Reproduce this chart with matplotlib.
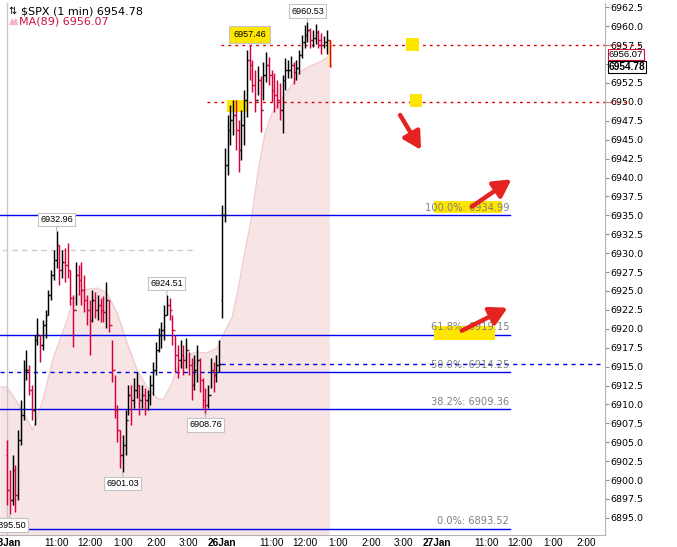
import matplotlib
matplotlib.use("Agg")
import matplotlib.pyplot as plt
import numpy as np
from matplotlib.collections import LineCollection
from matplotlib.patches import Rectangle, FancyArrowPatch, Polygon

plt.rcParams["font.family"] = ["DejaVu Sans"]

# x = minutes since 23 Jan 9:30 counted over regular sessions only; 5-minute bars
bar_idx = np.arange(0, 590, 5)

open_23jan = 6903.32
open_26jan = 6923.81

highs = [
    6905.30, 6901.34, 6903.32, 6902.00, 6906.62, 6910.59, 6915.88, 6917.20, 6915.22, 6912.57,
    6919.18, 6921.43, 6919.18, 6921.17, 6922.49, 6925.13, 6927.77, 6930.42, 6932.96, 6931.08,
    6930.42, 6930.68, 6931.34, 6927.77, 6924.47, 6928.83, 6928.44, 6928.83, 6927.11, 6924.47,
    6923.81, 6925.13, 6924.87, 6924.47, 6924.07, 6924.34, 6926.19, 6923.81, 6918.52, 6913.89,
    6909.93, 6906.62, 6905.96, 6909.27, 6912.57, 6912.57, 6913.50, 6914.29, 6912.57, 6912.57,
    6912.18, 6911.91, 6913.89, 6915.61, 6918.26, 6920.11, 6920.90, 6923.15, 6924.51, 6924.07,
    6921.83, 6919.18, 6917.86, 6918.52, 6917.86, 6918.79, 6916.94, 6916.14, 6916.54, 6917.86,
    6916.14, 6913.50, 6912.18, 6912.57, 6916.14, 6915.61, 6916.54, 6918.52,
    6936.37, 6943.90, 6948.26, 6949.59, 6950.25, 6950.25, 6947.60, 6948.92, 6951.57, 6956.86,
    6957.46, 6955.53, 6954.21, 6954.74, 6953.42, 6955.27, 6956.59, 6955.93, 6954.21, 6953.82,
    6952.89, 6952.49, 6953.55, 6955.80, 6955.53, 6956.06, 6955.27, 6955.53, 6956.86, 6958.84,
    6960.16, 6960.53, 6959.76, 6959.50, 6960.29, 6959.50, 6959.10, 6958.71, 6959.50, 6958.18,
]
lows = [
    6896.71, 6895.50, 6896.71, 6895.79, 6897.37, 6904.64, 6907.95, 6913.23, 6911.25, 6907.95,
    6907.29, 6917.86, 6915.61, 6917.20, 6918.79, 6921.83, 6923.81, 6926.45, 6928.04, 6925.79,
    6926.72, 6926.19, 6926.72, 6923.15, 6917.60, 6923.15, 6924.47, 6923.15, 6922.22, 6920.50,
    6916.54, 6920.90, 6921.43, 6921.17, 6920.90, 6920.90, 6920.11, 6919.58, 6912.97, 6908.21,
    6905.04, 6901.60, 6901.03, 6903.32, 6908.61, 6907.29, 6909.53, 6910.85, 6908.61, 6909.53,
    6908.61, 6909.27, 6909.93, 6911.25, 6913.89, 6916.94, 6917.46, 6918.52, 6921.83, 6921.17,
    6917.86, 6914.29, 6913.50, 6914.82, 6913.89, 6914.82, 6913.89, 6910.59, 6911.91, 6912.97,
    6911.65, 6909.53, 6908.76, 6909.53, 6912.18, 6911.65, 6912.97, 6914.29,
    6921.43, 6934.12, 6940.33, 6944.30, 6945.62, 6943.64, 6940.73, 6942.32, 6944.30, 6948.00,
    6952.89, 6951.30, 6948.66, 6950.91, 6946.02, 6950.25, 6952.63, 6952.23, 6949.98, 6948.66,
    6949.19, 6947.60, 6945.88, 6951.57, 6953.15, 6953.15, 6952.36, 6952.89, 6953.68, 6955.80,
    6957.12, 6957.91, 6957.12, 6957.25, 6957.65, 6957.12, 6956.33, 6957.12, 6956.33, 6954.61,
]
closes = [
    6898.69, 6897.37, 6901.34, 6898.03, 6905.30, 6908.61, 6914.56, 6914.56, 6911.91, 6909.27,
    6918.52, 6919.18, 6917.86, 6920.50, 6921.83, 6924.47, 6927.11, 6929.10, 6931.08, 6927.77,
    6928.83, 6928.44, 6927.77, 6924.07, 6922.49, 6927.11, 6926.45, 6925.13, 6923.81, 6922.49,
    6921.17, 6923.81, 6922.49, 6923.15, 6922.49, 6922.22, 6923.81, 6920.50, 6914.56, 6909.27,
    6906.62, 6903.32, 6904.64, 6907.95, 6911.25, 6910.59, 6911.91, 6912.57, 6910.59, 6911.25,
    6910.59, 6911.25, 6912.57, 6914.56, 6917.20, 6919.18, 6919.84, 6921.83, 6923.15, 6922.49,
    6919.84, 6916.54, 6915.88, 6916.54, 6915.88, 6917.20, 6915.22, 6912.57, 6914.56, 6915.88,
    6913.23, 6910.59, 6909.93, 6911.25, 6914.56, 6913.89, 6915.22, 6915.35,
    6935.05, 6941.65, 6946.28, 6947.60, 6948.26, 6946.28, 6943.64, 6946.94, 6950.25, 6955.53,
    6954.87, 6952.23, 6950.25, 6952.89, 6948.92, 6953.55, 6954.87, 6953.55, 6951.57, 6950.91,
    6950.25, 6948.92, 6952.89, 6954.21, 6954.21, 6954.87, 6953.95, 6954.48, 6956.20, 6957.91,
    6958.84, 6959.50, 6958.18, 6958.44, 6959.24, 6958.18, 6957.52, 6957.91, 6958.18, 6954.78,
]

# MA(89)
ma_idx = [-13, 0, 24, 47, 65, 83, 109, 120, 138, 163, 181, 200, 218, 236, 254, 272, 283, 296,
          308, 326, 345, 363, 381, 399, 408, 419, 432, 444, 455, 468, 481, 499, 513, 531, 550,
          568, 585]
ma_vals = [6912.30, 6912.31, 6909.66, 6906.62, 6910.59, 6915.88, 6921.17, 6923.81, 6925.13,
           6925.39, 6924.73, 6922.09, 6918.12, 6914.56, 6912.31, 6910.85, 6910.59, 6912.31,
           6914.56, 6916.54, 6916.94, 6916.80, 6917.46, 6920.24, 6921.43, 6925.13, 6930.42,
           6934.78, 6940.60, 6945.88, 6948.53, 6950.51, 6951.83, 6953.95, 6954.74, 6955.27,
           6956.07]

fib_pct = ["0.0%", "38.2%", "50.0%", "61.8%", "100.0%"]
fib_vals = [6893.52, 6909.36, 6914.25, 6919.15, 6934.99]

swing_idx = [5, 90, 210, 290, 360, 440, 545]
swing_price = [6895.50, 6932.96, 6901.03, 6924.51, 6908.76, 6957.46, 6960.53]
swing_side = ["low", "high", "low", "high", "low", "high", "high"]

prev_close_22 = 6930.42
prev_close_23 = 6915.35
resist_levels = [6957.46, 6950.00]
last_price = 6954.78
ma_last = 6956.07

tick_pos = [0, 90, 150, 210, 270, 330, 390, 480, 540, 600, 660, 720, 780, 870, 930, 990, 1050]
tick_lab = ["23Jan", "11:00", "12:00", "1:00", "2:00", "3:00", "26Jan", "11:00", "12:00",
            "1:00", "2:00", "3:00", "27Jan", "11:00", "12:00", "1:00", "2:00"]

UP = "#000000"
DOWN = "#d8003a"
BLUE = "#0000ee"
YELLOW = "#ffe600"
ARROW = "#e52421"

fig = plt.figure(figsize=(6.77, 5.47), dpi=100)
ax = fig.add_axes([0, 12 / 547, 605 / 677, 532 / 547])
ax.set_xlim(-12.7, 1084.7)
ax.set_ylim(6892.74, 6963.07)
y0 = ax.get_ylim()[0]

# MA area
ax.fill_between(ma_idx, ma_vals, y0, color="#f7e4e5", lw=0, zorder=1)
ax.plot(ma_idx, ma_vals, color="#f0c8ce", lw=0.9, zorder=1.1)

# day separator / left edge
ax.axvline(0, color="#c8c8c8", lw=1, zorder=1.2)

# previous closes
ax.plot([-9, 343], [prev_close_22] * 2, color="#cccccc", lw=1, ls=(0, (4, 3)), zorder=1.5)
ax.plot([388, 1075], [prev_close_23] * 2, color=BLUE, lw=1, ls=(0, (3, 3)), zorder=1.5)

# fibonacci levels
for pct, v in zip(fib_pct, fib_vals):
    if pct == "50.0%":
        ax.plot([-13, 365], [v, v], color=BLUE, lw=1, ls=(0, (3, 3)), zorder=1.6)
        ax.plot([365, 912], [v, v], color=BLUE, lw=1, zorder=1.6)
    else:
        ax.plot([-13, 912], [v, v], color=BLUE, lw=1, zorder=1.6)

# red dotted resistance lines
ax.plot([388, 1148], [resist_levels[0]] * 2, color="#e00000", lw=1, ls=(0, (2, 3)),
        clip_on=False, zorder=1.7)
ax.plot([363, 1125], [resist_levels[1]] * 2, color="#e00000", lw=1, ls=(0, (2, 3)),
        clip_on=False, zorder=1.7)

# yellow highlighter marks
for (xa, xb, ya, yb, col) in [
    (399, 437, 6948.66, 6950.25, YELLOW),
    (724, 747, 6956.73, 6958.44, YELLOW),
    (731, 753, 6949.32, 6951.04, YELLOW),
    (582, 590, 6954.61, 6958.18, "#fff08a"),
    (775, 898, 6935.3, 6936.9, YELLOW),
    (775, 885, 6918.5, 6920.4, YELLOW),
]:
    ax.add_patch(Rectangle((xa, ya), xb - xa, yb - ya, color=col, lw=0, zorder=1.8))

# OHLC bars
opens = np.r_[open_23jan, closes[:-1]]
opens[78] = open_26jan
segs, cols = [], []
for x, o, h, l, c in zip(bar_idx, opens, highs, lows, closes):
    col = UP if c >= o else DOWN
    segs += [[(x, l), (x, h)], [(x - 2.5, o), (x, o)], [(x, c), (x + 2.5, c)]]
    cols += [col] * 3
ax.add_collection(LineCollection(segs, colors=cols, linewidths=1.05, zorder=3))

# fib labels
for pct, v in zip(fib_pct, fib_vals):
    ax.annotate(f"{pct}: {v:.2f}", xy=(911, v), xytext=(0, 2), textcoords="offset points",
                ha="right", va="bottom", fontsize=7.1, color="#808080", zorder=4)

# swing labels
for i, p, side in zip(swing_idx, swing_price, swing_side):
    dy = 8 if side == "high" else -8
    hl = p == resist_levels[0]
    ax.annotate(f"{p:.2f}", xy=(i, p), xytext=(0, dy), textcoords="offset points",
                ha="center", va="center", fontsize=6.5, family="Liberation Sans",
                bbox=dict(boxstyle="square,pad=0.45" if hl else "square,pad=0.25",
                          fc=YELLOW if hl else "white", ec="#c4c4c4", lw=0.8),
                arrowprops=dict(arrowstyle="-", color="#b8b8b8", lw=0.8,
                                shrinkA=0, shrinkB=0),
                zorder=5)

# red arrows
for tail, tip in [((713, 6948.26), (751, 6943.64)),
                  ((843, 6936.14), (915, 6939.76)),
                  ((825, 6919.75), (908, 6922.79))]:
    ax.add_patch(FancyArrowPatch(tail, tip, arrowstyle="-|>,head_length=0.4,head_width=0.22",
                                 mutation_scale=26, lw=3.2, color=ARROW,
                                 shrinkA=0, shrinkB=0, zorder=6))

# axes styling
for s in ["left", "top"]:
    ax.spines[s].set_visible(False)
ax.spines["right"].set_color("#b4b4b4")
ax.spines["bottom"].set_color("#b4b4b4")
ax.yaxis.tick_right()
yt = np.arange(6895.0, 6963.0, 2.5)
ax.set_yticks(yt)
# the 6955.0 label sits under the price tags, as in the original
ax.set_yticklabels(["" if v == 6955.0 else f"{v:.1f}" for v in yt])
ax.tick_params(axis="y", length=3, color="#909090", pad=1, labelsize=6.8)
ax.set_xticks(tick_pos)
ax.set_xticklabels(tick_lab, family="Liberation Sans", fontsize=7.2)
ax.tick_params(axis="x", length=0, pad=2)
for lab in ax.get_xticklabels():
    if "Jan" in lab.get_text():
        lab.set_fontweight("bold")

# right-side value tags
ytr = ax.get_yaxis_transform()
ax.annotate(f"{ma_last:.2f}", xy=(1.006, ma_last), xycoords=ytr, xytext=(0, 1.0),
            textcoords="offset points", ha="left", va="center",
            fontsize=6.8, family="Liberation Sans", zorder=10, annotation_clip=False,
            bbox=dict(boxstyle="square,pad=0.08", fc="white", ec="#d0103a", lw=0.8))
ax.annotate(f"{last_price:.2f}", xy=(1.006, last_price), xycoords=ytr, xytext=(0, -0.8),
            textcoords="offset points", ha="left", va="center",
            fontsize=7.3, family="Liberation Sans", fontweight="bold", zorder=11,
            annotation_clip=False,
            bbox=dict(boxstyle="square,pad=0.08", fc="white", ec="black", lw=0.8))

# legend
fig.text(8 / 677, 1 - 11 / 547, "⇅", fontsize=7, va="center", ha="left")
fig.text(21 / 677, 1 - 11 / 547, f"$SPX (1 min) {last_price:.2f}", fontsize=8,
         va="center", ha="left")
fig.add_artist(Polygon([[9 / 677, 1 - 25 / 547], [12 / 677, 1 - 18 / 547],
                        [14 / 677, 1 - 21 / 547], [16 / 677, 1 - 17 / 547],
                        [18 / 677, 1 - 25 / 547]],
                       closed=True, transform=fig.transFigure, fc="#f2b8c2", ec="none"))
fig.text(19 / 677, 1 - 21 / 547, f"MA(89) {ma_last:.2f}", fontsize=8, va="center",
         ha="left", color="#cc1144")

fig.savefig("out.png", dpi=100)
